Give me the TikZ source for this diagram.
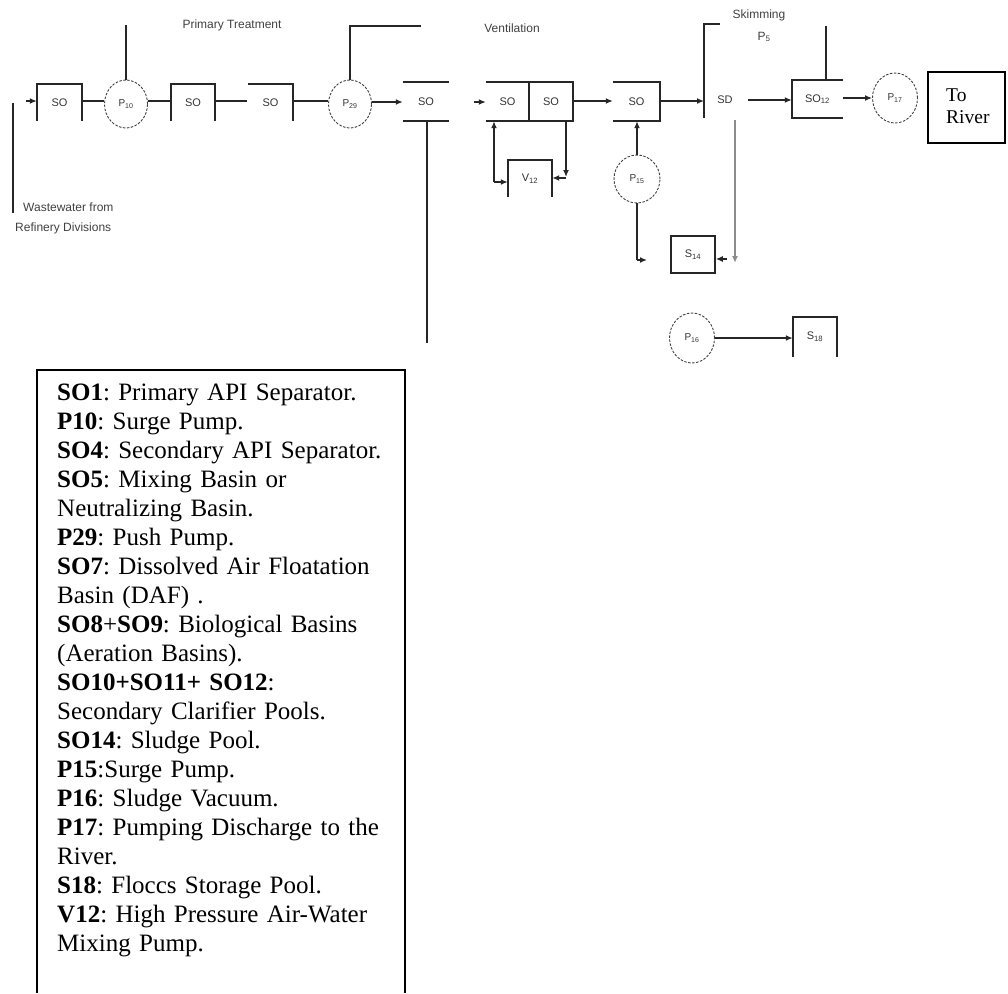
\documentclass[tikz,border=0pt]{standalone}
\usepackage{fontspec}
\setmainfont{Liberation Serif}
\newfontfamily\labelfont{Liberation Sans}
\usetikzlibrary{arrows.meta,calc,shapes.geometric}
\frenchspacing
\begin{document}
\begin{tikzpicture}[x=1pt,y=-1pt,
  pipe/.style={line width=1.5pt, draw=black!85},
  arr/.style={pipe,-{Latex[length=7pt,width=6pt]}},
  tank/.style={inner sep=0, minimum height=37pt, font=\labelfont\fontsize{11}{12}\selectfont, text=black!80},
  pump/.style={shape=ellipse, draw=black!75, line width=0.9pt, dash pattern=on 2.5pt off 1.5pt, inner sep=0, minimum width=43pt, minimum height=48pt, font=\labelfont\fontsize{10}{11}\selectfont, text=black!80},
  lbl/.style={font=\labelfont\fontsize{12}{13}\selectfont, inner sep=0, text=black!75}
]
\useasboundingbox (0,0) rectangle (1008,993);

% ---------- tanks ----------
\node[tank, minimum width=45pt] (so1) at (59.5,102.5) {SO};
\node[tank, minimum width=44pt] (so2) at (193,102.5) {SO};
\node[tank, minimum width=45pt] (so3) at (270.5,102.5) {SO};
\node[tank, minimum width=46pt, minimum height=39pt] (so4) at (426,101.5) {SO};
\node[tank, minimum width=43pt, minimum height=39pt] (so5) at (507.5,101.5) {SO};
\node[tank, minimum width=44pt, minimum height=39pt] (so6) at (551,101.5) {SO};
\node[tank, minimum width=47pt, minimum height=39pt] (so7) at (636.5,101.5) {SO};
\node[tank] (sd) at (725,100) {SD};
\node[tank, minimum width=51pt, minimum height=38pt] (so12) at (817.5,99) {SO\textsubscript{12}};
\node[tank, minimum width=44pt] (v12) at (530,178.5) {V\textsubscript{12}};
\node[tank, draw=black!85, line width=1.5pt, minimum width=44pt] (s14) at (693,254.5) {S\textsubscript{14}};
\node[tank, minimum width=44pt, minimum height=40pt] (s18) at (815,337) {S\textsubscript{18}};

% tank outlines
\draw[pipe] (so1.south west) -- (so1.north west) -- (so1.north east) -- (so1.south east);
\draw[pipe] (so2.south west) -- (so2.north west) -- (so2.north east) -- (so2.south east);
\draw[pipe] (so3.north west) -- (so3.north east) -- (so3.south east);
\draw[pipe] (so4.north west) -- (so4.north east);
\draw[pipe] (so4.south west) -- (so4.south east);
\draw[pipe] (so5.north west) -- (so6.north east) -- (so6.south east) -- (so5.south west);
\draw[pipe] (so5.north east) -- (so5.south east);
\draw[pipe] (so7.north west) -- (so7.north east) -- (so7.south east) -- (so7.south west);
\draw[pipe] (so12.north east) -- (so12.north west) -- (so12.south west) -- (so12.south east);
\draw[pipe] (v12.south west) -- (v12.north west) -- (v12.north east) -- (v12.south east);
\draw[pipe] (s18.south west) -- (s18.north west) -- (s18.north east) -- (s18.south east);

% ---------- pumps ----------
\node[pump] (p10) at (126,104) {P\textsubscript{10}};
\node[pump] (p29) at (350,104) {P\textsubscript{29}};
\node[pump, minimum width=46pt, minimum height=48pt] (p15) at (637,179) {P\textsubscript{15}};
\node[pump, minimum width=45pt, minimum height=50pt] (p17) at (895,98) {P\textsubscript{17}};
\node[pump, minimum width=45pt, minimum height=50pt] (p16) at (692,338) {P\textsubscript{16}};

% ---------- free coordinates ----------
\coordinate (inlet) at (26,101);
\coordinate (gap1) at (247,101);
\coordinate (p10top) at (126,25);
\coordinate (p29top) at (350,26);
\coordinate (p29end) at (421,26);
\coordinate (so4low) at (427,343);
\coordinate (ventin) at (474,102);
\coordinate (sdbar) at (704,101);
\coordinate (sdtop) at (704,24);
\coordinate (sdtopend) at (720,24);
\coordinate (sdbot) at (704,118);
\coordinate (sdout) at (748,100);
\coordinate (so12top) at (826,26);
\coordinate (v12left) at (494,182);
\coordinate (v12right) at (566,178);
\coordinate (p15low) at (637,260);
\coordinate (p15end) at (647,260);
\coordinate (sludgetop) at (735,120);
\coordinate (sludgebot) at (735,263);
\coordinate (s14in) at (727,259);
\coordinate (wastetop) at (13,103);
\coordinate (wastebot) at (13,213);

% ---------- connectors ----------
\draw[arr] (inlet) -- (so1.west |- inlet);
\draw[pipe] (wastetop) -- (wastebot);
\draw[pipe] (so1.east |- 0,101) -- (p10.west |- 0,101);
\draw[pipe] (p10.north) -- (p10top);
\draw[pipe] (p10.east |- 0,101) -- (so2.west |- 0,101);
\draw[pipe] (so2.east |- 0,101) -- (gap1);
\draw[pipe] (so3.east |- 0,101) -- (p29.west |- 0,101);
\draw[pipe] (p29.north) -- (p29top) -- (p29end);
\draw[arr] (p29.east |- 0,102) -- (so4.west |- 0,102);
\draw[pipe] (so4.south) ++(1,0) -- (so4low);
\draw[arr] (ventin) -- (so5.west |- ventin);
\draw[pipe] (sdtopend) -- (sdtop) -- (sdbot);
\draw[arr] (so6.east |- 0,101) -- (so7.west |- 0,101);
\draw[arr] (so7.east |- 0,101) -- (sdbar);
\draw[arr] (sdout) -- (so12.west |- sdout);
\draw[pipe] (so12top) -- (so12top |- so12.north);
\draw[arr] (so12.east |- 0,98) -- (p17.west |- 0,98);
\draw[arr] (v12left) -- (v12left |- so5.south);
\draw[arr] (v12left) -- (v12.west |- v12left);
\draw[arr] (v12right |- so6.south) -- ($(v12right)+(0,-1)$);
\draw[arr] (v12right) -- (v12.east |- v12right);
\draw[arr] (p15.north) -- (so7.south -| p15.north);
\draw[pipe] (p15.south) -- (p15low);
\draw[arr] (p15low) -- (p15end);
\draw[arr, draw=black!45] (sludgetop) -- (sludgebot);
\draw[arr] (s14in) -- (s14.east |- s14in);
\draw[arr] (p16.east) -- (s18.west |- p16.east);

% ---------- labels ----------
\node[lbl] (lprim) at (232,25) {Primary Treatment};
\node[lbl] (lvent) at (512,28) {Ventilation};
\node[lbl] (lskim) at (759,15) {Skimming};
\node[lbl] (lp5) at (764,37) {P\textsubscript{5}};
\node[lbl, anchor=west] (lwaste1) at (23,207) {Wastewater from};
\node[lbl, anchor=west] (lwaste2) at (15,228) {Refinery Divisions};

% ---------- To River ----------
\node[draw, line width=1.2pt, minimum width=77pt, minimum height=71pt, inner sep=0] (river) at (966.5,107.5) {};
\node[anchor=west, align=left, inner sep=0, font=\fontsize{19.5}{22}\selectfont] (rivertext) at (946,106) {To\\River};

% ---------- legend ----------
\draw[line width=1.2pt] (37,993) -- (37,370) -- (405,370) -- (405,993);
\node[anchor=north west, inner sep=0, text width=345pt, align=left, font=\fontsize{25}{29}\selectfont] (legend) at (57,384) {%
\textbf{SO1}: Primary API Separator.\\
\textbf{P10}: Surge Pump.\\
\textbf{SO4}: Secondary API Separator.\\
\textbf{SO5}: Mixing Basin or\\
Neutralizing Basin.\\
\textbf{P29}: Push Pump.\\
\textbf{SO7}: Dissolved Air Floatation\\
Basin (DAF) .\\
\textbf{SO8}+\textbf{SO9}: Biological Basins\\
(Aeration Basins).\\
\textbf{SO10+SO11+ SO12}:\\
Secondary Clarifier Pools.\\
\textbf{SO14}: Sludge Pool.\\
\textbf{P15}:Surge Pump.\\
\textbf{P16}: Sludge Vacuum.\\
\textbf{P17}: Pumping Discharge to the\\
River.\\
\textbf{S18}: Floccs Storage Pool.\\
\textbf{V12}: High Pressure Air-Water\\
Mixing Pump.};
\end{tikzpicture}
\end{document}
